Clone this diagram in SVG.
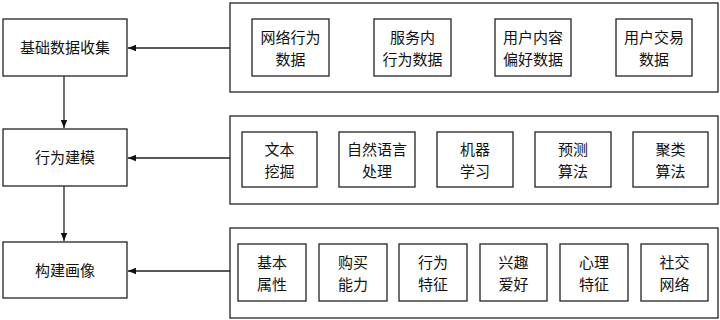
<svg xmlns="http://www.w3.org/2000/svg" width="720" height="320" viewBox="0 0 720 320">
<defs>
<style>
.box{fill:#fff;stroke:#222;stroke-width:1.3}
.t{font-family:"Noto Sans CJK SC","Noto Sans",sans-serif;font-size:15px;fill:#111;text-anchor:middle}
.c{stroke:#222;stroke-width:1.3;fill:none}
</style>
<marker id="ah" viewBox="0 0 10 10" refX="10" refY="5" markerWidth="8" markerHeight="8" markerUnits="userSpaceOnUse" orient="auto"><path d="M0,1 L10,5 L0,9 Z" fill="#111"/></marker>
</defs>
<rect width="720" height="320" fill="#fff"/>
<g id="n-collect"><rect class="box" x="3" y="19" width="124" height="57"/><text class="t" x="65" y="53">基础数据收集</text></g>
<g id="n-model"><rect class="box" x="3" y="129" width="124" height="57"/><text class="t" x="65" y="163">行为建模</text></g>
<g id="n-portrait"><rect class="box" x="3" y="242" width="124" height="56"/><text class="t" x="65" y="276">构建画像</text></g>

<g id="g-data"><rect class="box" x="230" y="3" width="488" height="89"/>
<g id="d1"><rect class="box" x="252" y="19" width="77" height="57"/><text class="t" x="290.5" y="43">网络行为</text><text class="t" x="290.5" y="65">数据</text></g>
<g id="d2"><rect class="box" x="374" y="19" width="77" height="57"/><text class="t" x="412.5" y="43">服务内</text><text class="t" x="412.5" y="65">行为数据</text></g>
<g id="d3"><rect class="box" x="495" y="19" width="76" height="57"/><text class="t" x="533" y="43">用户内容</text><text class="t" x="533" y="65">偏好数据</text></g>
<g id="d4"><rect class="box" x="616" y="19" width="76" height="57"/><text class="t" x="654" y="43">用户交易</text><text class="t" x="654" y="65">数据</text></g>
</g>

<g id="g-method"><rect class="box" x="230" y="116" width="488" height="88"/>
<g id="m1"><rect class="box" x="242" y="132" width="75" height="55"/><text class="t" x="279.5" y="155">文本</text><text class="t" x="279.5" y="177">挖掘</text></g>
<g id="m2"><rect class="box" x="339" y="132" width="76" height="55"/><text class="t" x="377" y="155">自然语言</text><text class="t" x="377" y="177">处理</text></g>
<g id="m3"><rect class="box" x="437" y="132" width="76" height="55"/><text class="t" x="475" y="155">机器</text><text class="t" x="475" y="177">学习</text></g>
<g id="m4"><rect class="box" x="535" y="132" width="76" height="55"/><text class="t" x="573" y="155">预测</text><text class="t" x="573" y="177">算法</text></g>
<g id="m5"><rect class="box" x="633" y="132" width="75" height="55"/><text class="t" x="670.5" y="155">聚类</text><text class="t" x="670.5" y="177">算法</text></g>
</g>

<g id="g-tags"><rect class="box" x="230" y="228" width="488" height="90"/>
<g id="p1"><rect class="box" x="238" y="244" width="68" height="57"/><text class="t" x="272" y="268">基本</text><text class="t" x="272" y="290">属性</text></g>
<g id="p2"><rect class="box" x="319" y="244" width="68" height="57"/><text class="t" x="353" y="268">购买</text><text class="t" x="353" y="290">能力</text></g>
<g id="p3"><rect class="box" x="399" y="244" width="68" height="57"/><text class="t" x="433" y="268">行为</text><text class="t" x="433" y="290">特征</text></g>
<g id="p4"><rect class="box" x="480" y="244" width="67" height="57"/><text class="t" x="513.5" y="268">兴趣</text><text class="t" x="513.5" y="290">爱好</text></g>
<g id="p5"><rect class="box" x="560" y="244" width="68" height="57"/><text class="t" x="594" y="268">心理</text><text class="t" x="594" y="290">特征</text></g>
<g id="p6"><rect class="box" x="641" y="244" width="67" height="57"/><text class="t" x="674.5" y="268">社交</text><text class="t" x="674.5" y="290">网络</text></g>
</g>

<g id="connectors">
<line class="c" x1="230" y1="48" x2="128" y2="48" marker-end="url(#ah)"/>
<line class="c" x1="230" y1="158" x2="128" y2="158" marker-end="url(#ah)"/>
<line class="c" x1="230" y1="271" x2="128" y2="271" marker-end="url(#ah)"/>
<line class="c" x1="64" y1="76" x2="64" y2="128" marker-end="url(#ah)"/>
<line class="c" x1="64" y1="186" x2="64" y2="241" marker-end="url(#ah)"/>
</g>
</svg>
